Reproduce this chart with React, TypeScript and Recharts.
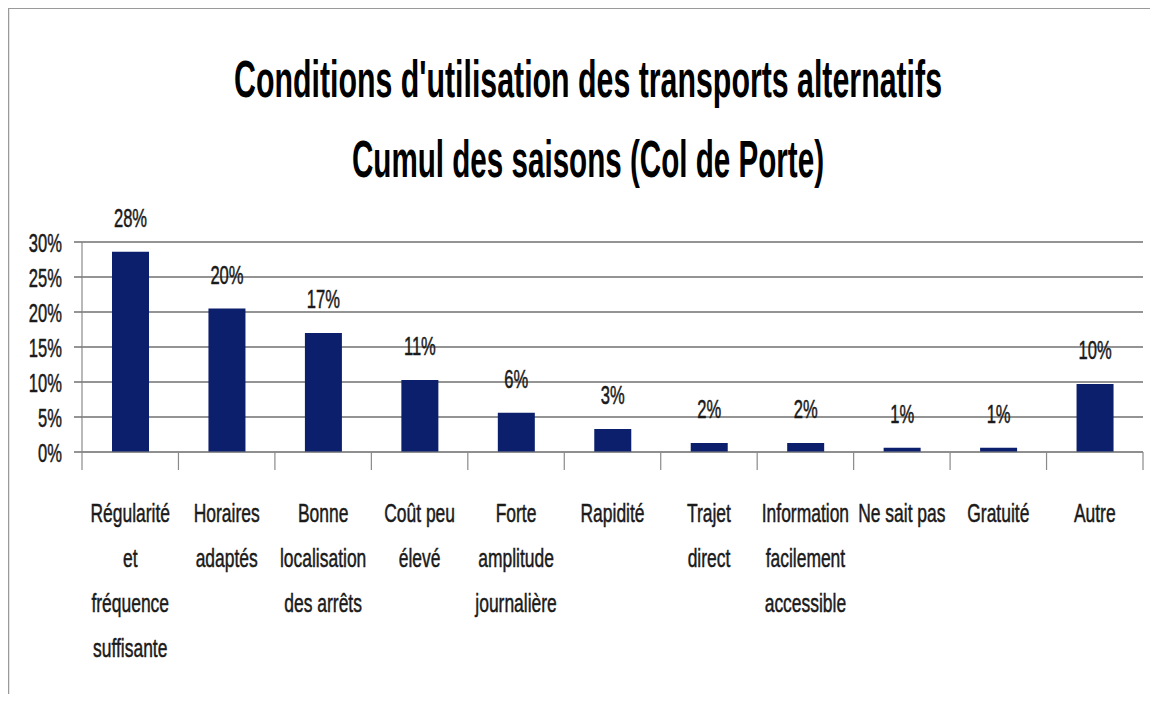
import { BarChart, Bar, XAxis, YAxis, CartesianGrid, LabelList } from "recharts";

const categories = [
  ["Régularité", "et", "fréquence", "suffisante"],
  ["Horaires", "adaptés"],
  ["Bonne", "localisation", "des arrêts"],
  ["Coût peu", "élevé"],
  ["Forte", "amplitude", "journalière"],
  ["Rapidité"],
  ["Trajet", "direct"],
  ["Information", "facilement", "accessible"],
  ["Ne sait pas"],
  ["Gratuité"],
  ["Autre"],
];

// bar heights (percent)
const shares = [28.6, 20.5, 17.0, 10.3, 5.6, 3.3, 1.3, 1.3, 0.6, 0.6, 9.7];
// the labels printed above the bars
const shareLabels = ["28%", "20%", "17%", "11%", "6%", "3%", "2%", "2%", "1%", "1%", "10%"];
const yTicks = [0, 5, 10, 15, 20, 25, 30];

const titleLines = [
  "Conditions d'utilisation des transports alternatifs",
  "Cumul des saisons (Col de Porte)",
];

const W = 1158;
const H = 702;
const MARGIN = { top: 242, right: 15, left: 0, bottom: 30 };
const Y_AXIS_W = 82;
const X_AXIS_H = 220;
const BAND = (W - MARGIN.left - MARGIN.right - Y_AXIS_W) / categories.length;

const FONT = "'Liberation Sans', Arial, sans-serif";
const TEXT = "#1a1a1a";
const BAR = "#0c1f6c";

const data = categories.map((lines, i) => ({
  name: lines.join(" "),
  share: shares[i],
  label: shareLabels[i],
}));

const CategoryTick = (props: any) => {
  const { x, y, index } = props;
  const lines = categories[index] || [];
  const left = x - BAND / 2;
  const right = x + BAND / 2;
  return (
    <g>
      <line x1={left} y1={y} x2={left} y2={y + 18} stroke="#8a8a8a" strokeWidth={1.2} />
      {index === categories.length - 1 && (
        <line x1={right} y1={y} x2={right} y2={y + 18} stroke="#8a8a8a" strokeWidth={1.2} />
      )}
      {lines.map((ln, i) => (
        <text
          key={i}
          x={0}
          y={0}
          transform={`translate(${x},${y + 70 + i * 45}) scale(0.97,1.45)`}
          textAnchor="middle"
          fontFamily={FONT}
          fontSize={18}
          fill={TEXT}
          stroke={TEXT}
          strokeWidth={0.35}
        >
          {ln}
        </text>
      ))}
    </g>
  );
};

const PercentTick = (props: any) => {
  const { x, y, payload } = props;
  return (
    <text
      x={0}
      y={0}
      transform={`translate(${x - 12},${y + 10}) scale(0.92,1.45)`}
      textAnchor="end"
      fontFamily={FONT}
      fontSize={18}
      fill={TEXT}
      stroke={TEXT}
      strokeWidth={0.35}
    >
      {`${payload.value}%`}
    </text>
  );
};

const renderValueLabel = (props: any) => {
  const { x, y, width, value } = props;
  return (
    <text
      x={0}
      y={0}
      transform={`translate(${x + width / 2},${y - 25}) scale(0.92,1.45)`}
      textAnchor="middle"
      fontFamily={FONT}
      fontSize={18}
      fill={TEXT}
      stroke={TEXT}
      strokeWidth={0.35}
    >
      {value}
    </text>
  );
};

export default function App() {
  return (
    <div style={{ position: "relative", width: W, height: H, margin: -8, background: "#fff" }}>
      <div style={{ position: "absolute", left: 0, top: 0 }}>
        <BarChart width={W} height={H} data={data} margin={MARGIN}>
          <CartesianGrid vertical={false} stroke="#707070" strokeWidth={1.5} />
          <XAxis
            dataKey="name"
            interval={0}
            height={X_AXIS_H}
            axisLine={{ stroke: "#8a8a8a", strokeWidth: 1.2 }}
            tickLine={false}
            tickSize={0}
            tickMargin={0}
            tick={<CategoryTick />}
          />
          <YAxis
            width={Y_AXIS_W}
            domain={[0, 30]}
            ticks={yTicks}
            interval={0}
            axisLine={{ stroke: "#8a8a8a", strokeWidth: 1.2 }}
            tickLine={{ stroke: "#707070", strokeWidth: 1.5 }}
            tickSize={8}
            tickMargin={0}
            tick={<PercentTick />}
          />
          <Bar dataKey="share" fill={BAR} barSize={37} isAnimationActive={false}>
            <LabelList dataKey="label" content={renderValueLabel} />
          </Bar>
        </BarChart>
      </div>
      <svg
        width={W}
        height={H}
        style={{ position: "absolute", left: 0, top: 0, pointerEvents: "none", zIndex: 2 }}
      >
        {/* picture frame: top and left edges */}
        <line x1={6} y1={8} x2={W} y2={8} stroke="#9a9a9a" strokeWidth={2} />
        <line x1={8} y1={8} x2={8} y2={H} stroke="#9a9a9a" strokeWidth={2.5} />
        <text
          x={588}
          y={97}
          textAnchor="middle"
          fontFamily={FONT}
          fontWeight="bold"
          fontSize={52}
          textLength={708}
          lengthAdjust="spacingAndGlyphs"
          fill="#000"
        >
          {titleLines[0]}
        </text>
        <text
          x={588}
          y={177}
          textAnchor="middle"
          fontFamily={FONT}
          fontWeight="bold"
          fontSize={52}
          textLength={472}
          lengthAdjust="spacingAndGlyphs"
          fill="#000"
        >
          {titleLines[1]}
        </text>
      </svg>
    </div>
  );
}
